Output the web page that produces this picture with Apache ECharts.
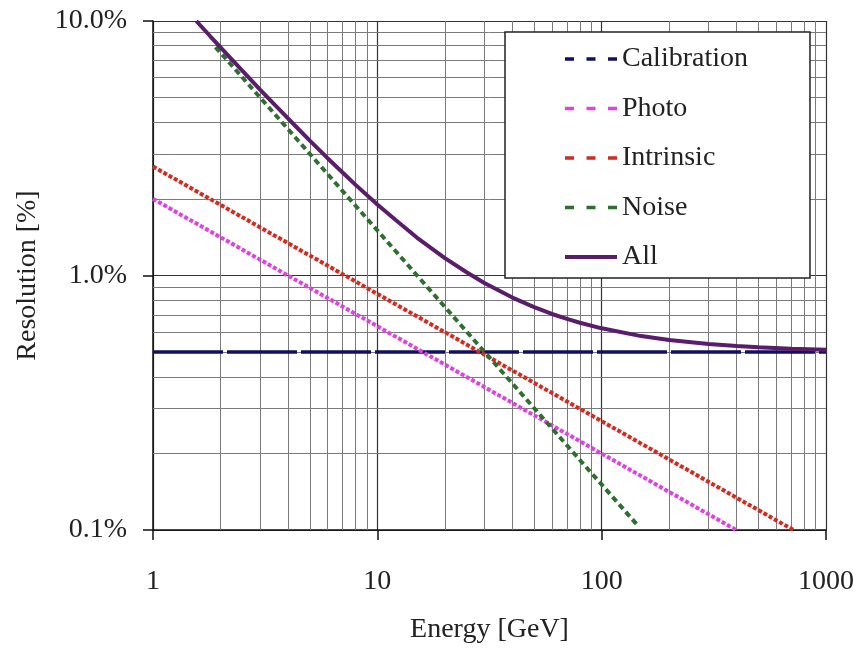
<!DOCTYPE html>
<html>
<head>
<meta charset="utf-8">
<script src="https://cdn.jsdelivr.net/npm/echarts@6/dist/echarts.min.js"></script>
<style>
  html, body { margin: 0; padding: 0; background: #fff; }
  #main { width: 857px; height: 650px; }
</style>
</head>
<body>
<div id="main"></div>
<script>
// values (energy in GeV, resolution in %)
const calibE = [1, 1000];
const calibRes = [0.5, 0.5];
const photoE = [1, 398];
const photoRes = [2.0, 0.1];
const intrinsicE = [1, 716];
const intrinsicRes = [2.68, 0.1];
const noiseE = [1.9, 145];
const noiseRes = [7.9, 0.104];
const allE = [1.56, 1.8, 2, 2.5, 3, 3.5, 4, 5, 6, 7, 8, 10, 12, 15, 20, 25, 30, 40, 50, 60, 70, 80, 100, 150, 200, 300, 400, 500, 700, 1000];
const allRes = [10.0, 8.71, 7.88, 6.38, 5.38, 4.67, 4.14, 3.39, 2.89, 2.54, 2.27, 1.90, 1.66, 1.41, 1.17, 1.03, 0.934, 0.819, 0.751, 0.706, 0.675, 0.652, 0.620, 0.578, 0.558, 0.538, 0.529, 0.523, 0.516, 0.511];

// minor grid positions
const xMinor = [2, 3, 4, 5, 6, 7, 8, 9, 20, 30, 40, 50, 60, 70, 80, 90, 200, 300, 400, 500, 600, 700, 800, 900];
const yMinor = [0.2, 0.3, 0.4, 0.5, 0.6, 0.7, 0.8, 0.9, 2, 3, 4, 5, 6, 7, 8, 9];

const font = "Liberation Serif";
const pairs = (xs, ys) => xs.map((x, i) => [x, ys[i]]);
const dashIcon = { type: [9, 12.5], width: 3.5 };

const chart = echarts.init(document.getElementById("main"));

const option = {
  animation: false,
  grid: { left: 153, right: 31, top: 21, bottom: 120 },
  legend: {
    orient: "vertical",
    left: 505,
    top: 32,
    padding: [12, 62, 6, 58],
    itemGap: 19.5,
    itemWidth: 52,
    itemHeight: 14,
    backgroundColor: "#fff",
    borderColor: "#222",
    borderWidth: 1.5,
    borderRadius: 0,
    textStyle: { fontFamily: font, fontSize: 28, lineHeight: 30, color: "#222" },
    data: [
      { name: "Calibration", lineStyle: dashIcon, itemStyle: { opacity: 0 } },
      { name: "Photo", lineStyle: dashIcon, itemStyle: { opacity: 0 } },
      { name: "Intrinsic", lineStyle: dashIcon, itemStyle: { opacity: 0 } },
      { name: "Noise", lineStyle: dashIcon, itemStyle: { opacity: 0 } },
      { name: "All", lineStyle: { width: 4 }, itemStyle: { opacity: 0 } },
    ],
  },
  xAxis: {
    type: "log",
    logBase: 10,
    min: 1,
    max: 1000,
    name: "Energy [GeV]",
    nameLocation: "middle",
    nameGap: 86,
    nameTextStyle: { fontFamily: font, fontSize: 28, color: "#222" },
    axisLine: { lineStyle: { color: "#111", width: 1.5 } },
    axisTick: { show: true, length: 10, lineStyle: { color: "#111", width: 1.5 } },
    axisLabel: {
      fontFamily: font,
      fontSize: 28,
      color: "#222",
      margin: 38,
      formatter: (v) => String(Math.round(v)),
    },
    splitLine: { show: true, lineStyle: { color: "#333", width: 1.2 } },
  },
  yAxis: {
    type: "log",
    logBase: 10,
    min: 0.1,
    max: 10,
    name: "Resolution [%]",
    nameLocation: "middle",
    nameGap: 111,
    nameTextStyle: { fontFamily: font, fontSize: 28, color: "#222" },
    axisLine: { show: true, lineStyle: { color: "#111", width: 1.5 } },
    axisTick: { show: true, length: 10, lineStyle: { color: "#111", width: 1.5 } },
    axisLabel: {
      fontFamily: font,
      fontSize: 28,
      color: "#222",
      margin: 26,
      formatter: (v) => v.toFixed(1) + "%",
    },
    splitLine: { show: true, lineStyle: { color: "#333", width: 1.2 } },
  },
  series: [
    {
      // minor grid
      type: "line",
      data: [],
      silent: true,
      z: 1,
      markLine: {
        silent: true,
        z: 1,
        symbol: "none",
        label: { show: false },
        lineStyle: { color: "#7a7a7a", width: 1, type: "solid" },
        data: xMinor.map((v) => ({ xAxis: v })).concat(yMinor.map((v) => ({ yAxis: v }))),
      },
    },
    {
      name: "Calibration",
      type: "line",
      data: pairs(calibE, calibRes),
      symbol: "none",
      color: "#101060",
      lineStyle: { color: "#101060", width: 3.5, type: [70, 4] },
      z: 3,
    },
    {
      name: "Photo",
      type: "line",
      data: pairs(photoE, photoRes),
      symbol: "none",
      color: "#dd44dd",
      lineStyle: { color: "#dd44dd", width: 4, type: [4, 2] },
      z: 3,
    },
    {
      name: "Intrinsic",
      type: "line",
      data: pairs(intrinsicE, intrinsicRes),
      symbol: "none",
      color: "#d42a20",
      lineStyle: { color: "#d42a20", width: 4, type: [4, 2] },
      z: 3,
    },
    {
      name: "Noise",
      type: "line",
      data: pairs(noiseE, noiseRes),
      symbol: "none",
      color: "#2e6e2e",
      lineStyle: { color: "#2e6e2e", width: 4, type: [6, 4] },
      z: 3,
    },
    {
      name: "All",
      type: "line",
      data: pairs(allE, allRes),
      symbol: "none",
      color: "#5a1d6b",
      lineStyle: { color: "#5a1d6b", width: 4 },
      z: 4,
    },
  ],
};

chart.setOption(option);
</script>
</body>
</html>
